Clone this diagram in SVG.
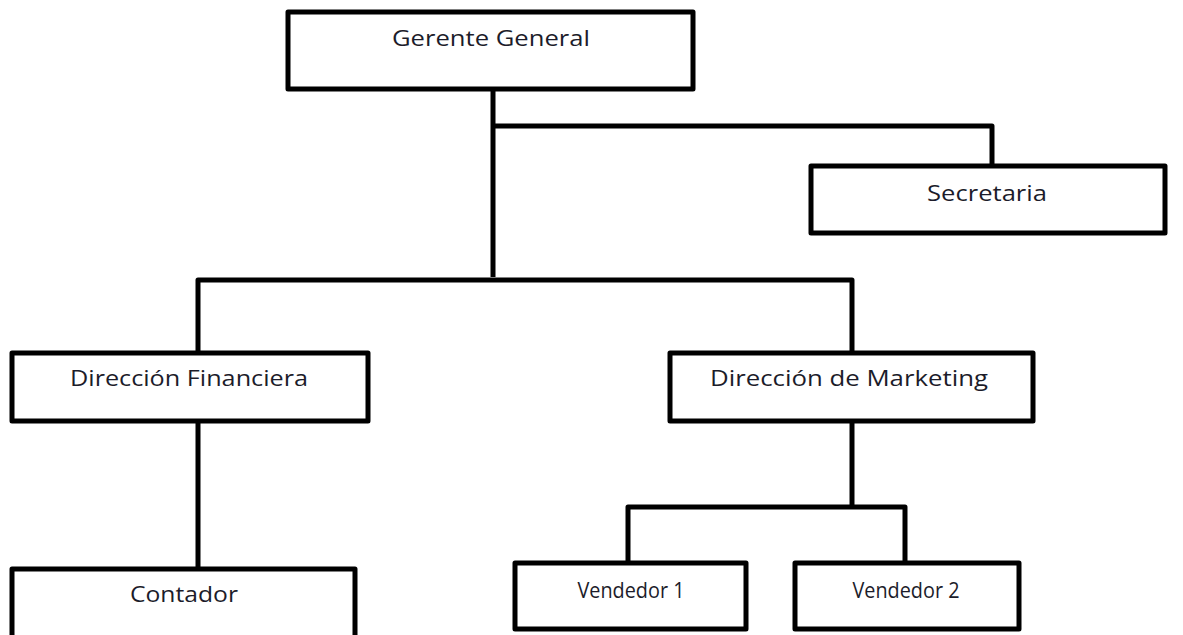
<svg xmlns="http://www.w3.org/2000/svg" width="1183" height="635" viewBox="0 0 1183 635">
<style>
.box{fill:#fff;stroke:#000;stroke-width:5;stroke-linejoin:round}
.lbl{font-family:"Open Sans","Noto Sans",sans-serif;font-size:22px;fill:#1c1c2a;text-anchor:middle}
.con{fill:none;stroke:#000;stroke-width:5;stroke-linejoin:round}
</style>
<rect width="1183" height="635" fill="#fff"/>
<g id="connectors">
<path class="con" d="M493 90 V277"/>
<path class="con" d="M493 126 H992 V165"/>
<path class="con" d="M198 352 V280 H852 V352"/>
<path class="con" d="M198 423 V568"/>
<path class="con" d="M852 423 V507"/>
<path class="con" d="M628 562 V507 H905 V562"/>
</g>
<g id="gerente"><rect class="box" x="288" y="12" width="405" height="77"/><text class="lbl" x="491" y="46" textLength="198" lengthAdjust="spacingAndGlyphs">Gerente General</text></g>
<g id="secretaria"><rect class="box" x="811" y="166" width="354" height="67"/><text class="lbl" x="987" y="201" textLength="120" lengthAdjust="spacingAndGlyphs">Secretaria</text></g>
<g id="dir-financiera"><rect class="box" x="12" y="353" width="356" height="68"/><text class="lbl" x="189" y="386" textLength="238" lengthAdjust="spacingAndGlyphs">Dirección Financiera</text></g>
<g id="dir-marketing"><rect class="box" x="670" y="353" width="363" height="68"/><text class="lbl" x="849" y="386" textLength="278" lengthAdjust="spacingAndGlyphs">Dirección de Marketing</text></g>
<g id="contador"><rect class="box" x="12" y="569" width="343" height="75"/><text class="lbl" x="184" y="602" textLength="108" lengthAdjust="spacingAndGlyphs">Contador</text></g>
<g id="vendedor1"><rect class="box" x="515" y="563" width="231" height="66"/><text class="lbl" x="631" y="598" textLength="107" lengthAdjust="spacingAndGlyphs">Vendedor 1</text></g>
<g id="vendedor2"><rect class="box" x="795" y="563" width="224" height="66"/><text class="lbl" x="906" y="598" textLength="107" lengthAdjust="spacingAndGlyphs">Vendedor 2</text></g>
</svg>
